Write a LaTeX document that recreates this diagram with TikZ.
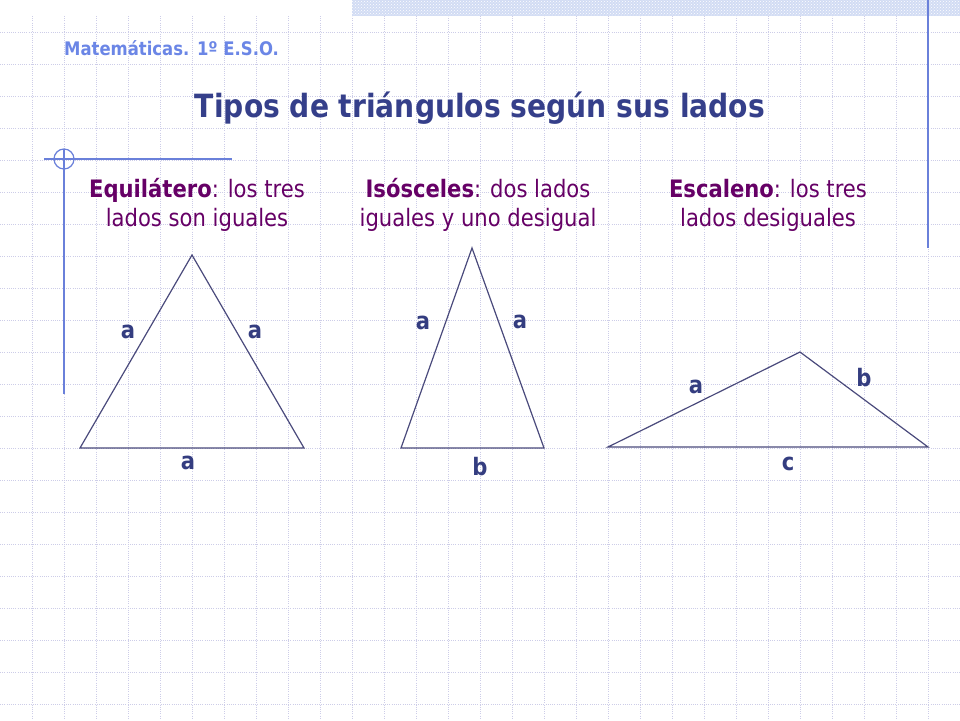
\documentclass[tikz,border=0pt]{standalone}
\usepackage{fontspec}
\setmainfont{DejaVu Sans}[FakeStretch=0.88]
\usetikzlibrary{patterns}
\definecolor{gridc}{HTML}{CDCDE8}
\definecolor{bandc}{HTML}{D2DCF4}
\definecolor{decoc}{HTML}{6A80DA}
\definecolor{headc}{HTML}{6B86E6}
\definecolor{titlec}{HTML}{353F8A}
\definecolor{subc}{HTML}{660066}
\definecolor{tric}{HTML}{4A4A7C}
\definecolor{labc}{HTML}{343D80}
\tikzset{
  gridline/.style={gridc, line width=0.8pt, dash pattern=on 1pt off 1.2pt},
  deco/.style={decoc, line width=1.2pt},
  tri/.style={tric, line width=1.2pt, line join=miter},
  lab/.style={labc, font=\fontsize{24}{28}\selectfont\bfseries, inner sep=0pt},
  sub/.style={subc, font=\fontsize{24}{29}\selectfont, align=center, inner sep=0pt, anchor=base},
}
\begin{document}
\begin{tikzpicture}[x=1pt,y=-1pt]
\useasboundingbox (0,0) rectangle (960,720);
\fill[white] (0,0) rectangle (960,720);
% grid
\foreach \i in {1,...,29} \draw[gridline] (\i*32,16) -- (\i*32,720);
\foreach \j in {1,...,22} \draw[gridline] (0,\j*32) -- (960,\j*32);
% top band
\fill[bandc] (352,0) rectangle (960,16);
\fill[pattern=crosshatch dots, pattern color=white] (352,0) rectangle (960,16);
% decorations
\coordinate (vr1) at (928,0); \coordinate (vr2) at (928,248);
\draw[deco] (vr1) -- (vr2);
\coordinate (hl1) at (44,159); \coordinate (hl2) at (232,159);
\draw[deco] (hl1) -- (hl2);
\coordinate (vl1) at (64,149); \coordinate (vl2) at (64,394);
\draw[deco] (vl1) -- (vl2);
\node[draw=decoc, line width=1.2pt, circle, minimum size=20pt, inner sep=0pt] (circ) at (64,159) {};
% header
\node[anchor=base west, headc, font=\fontsize{18.7}{22}\selectfont\bfseries, inner sep=0pt] (head) at (64,55) {Matemáticas. 1º E.S.O.};
\node[anchor=base, titlec, font=\fontsize{32}{38}\selectfont\bfseries, inner sep=0pt] (title) at (480,117) {Tipos de triángulos según sus lados};
% subtitles
\node[sub] (s1) at (197,226) {\textbf{Equilátero}: los tres\\lados son iguales};
\node[sub] (s2) at (478,226) {\textbf{Isósceles}: dos lados\\iguales y uno desigual};
\node[sub] (s3) at (768,226) {\textbf{Escaleno}: los tres\\lados desiguales};
% equilateral
\coordinate (e1) at (192,255); \coordinate (e2) at (80,448); \coordinate (e3) at (304,448);
\draw[tri] (e1) -- (e2) -- (e3) -- cycle;
\node[lab] (ea1) at (128,332) {a};
\node[lab] (ea2) at (255,332) {a};
\node[lab] (ea3) at (188,463) {a};
% isosceles
\coordinate (i1) at (472,248); \coordinate (i2) at (401,448); \coordinate (i3) at (544,448);
\draw[tri] (i1) -- (i2) -- (i3) -- cycle;
\node[lab] (ia1) at (423,323) {a};
\node[lab] (ia2) at (520,322) {a};
\node[lab] (ib) at (480,467) {b};
% scalene
\coordinate (c1) at (800,352); \coordinate (c2) at (608,447); \coordinate (c3) at (928,447);
\draw[tri] (c1) -- (c2) -- (c3) -- cycle;
\node[lab] (ca) at (696,387) {a};
\node[lab] (cb) at (864,378) {b};
\node[lab] (cc) at (788,464) {c};
\end{tikzpicture}
\end{document}
